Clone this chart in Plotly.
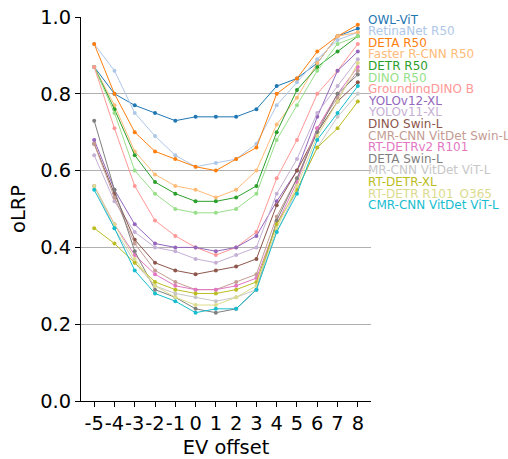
import plotly.graph_objects as go

# ---- data ----
ev_offset = [-5, -4, -3, -2, -1, 0, 1, 2, 3, 4, 5, 6, 7, 8]
x_tick_labels = ["-5", "-4", "-3", "-2", "-1", "0", "1", "2", "3", "4", "5", "6", "7", "8"]
y_tick_vals = [0.0, 0.2, 0.4, 0.6, 0.8, 1.0]

owl_vit = [0.87, 0.80, 0.77, 0.75, 0.73, 0.74, 0.74, 0.74, 0.76, 0.82, 0.84, 0.88, 0.95, 0.97]
retinanet_r50 = [0.93, 0.86, 0.75, 0.69, 0.64, 0.61, 0.62, 0.63, 0.67, 0.77, 0.83, 0.89, 0.94, 0.96]
deta_r50 = [0.93, 0.80, 0.70, 0.65, 0.63, 0.61, 0.60, 0.63, 0.66, 0.80, 0.84, 0.91, 0.95, 0.98]
faster_rcnn_r50 = [0.87, 0.77, 0.65, 0.59, 0.56, 0.55, 0.53, 0.55, 0.60, 0.72, 0.79, 0.88, 0.95, 0.96]
detr_r50 = [0.87, 0.76, 0.64, 0.57, 0.54, 0.52, 0.52, 0.53, 0.56, 0.70, 0.81, 0.87, 0.91, 0.95]
dino_r50 = [0.87, 0.75, 0.60, 0.54, 0.50, 0.49, 0.49, 0.50, 0.54, 0.68, 0.77, 0.86, 0.93, 0.95]
grounding_dino_b = [0.87, 0.71, 0.56, 0.47, 0.43, 0.40, 0.38, 0.40, 0.44, 0.58, 0.68, 0.80, 0.86, 0.93]
yolov12_xl = [0.68, 0.55, 0.46, 0.41, 0.40, 0.40, 0.39, 0.40, 0.43, 0.52, 0.60, 0.74, 0.86, 0.91]
yolov11_xl = [0.64, 0.52, 0.44, 0.40, 0.39, 0.37, 0.36, 0.38, 0.40, 0.54, 0.63, 0.75, 0.82, 0.89]
dino_swin_l = [0.67, 0.54, 0.42, 0.36, 0.34, 0.33, 0.34, 0.35, 0.37, 0.51, 0.60, 0.70, 0.78, 0.83]
cmr_vitdet_swin_l = [0.67, 0.53, 0.41, 0.34, 0.31, 0.29, 0.29, 0.31, 0.33, 0.48, 0.58, 0.71, 0.79, 0.86]
rt_detrv2_r101 = [0.56, 0.46, 0.38, 0.33, 0.30, 0.29, 0.29, 0.30, 0.32, 0.46, 0.57, 0.71, 0.80, 0.87]
deta_swin_l = [0.73, 0.55, 0.39, 0.29, 0.27, 0.24, 0.23, 0.24, 0.29, 0.47, 0.58, 0.70, 0.80, 0.85]
mr_vitdet_vit_l = [0.56, 0.45, 0.36, 0.30, 0.28, 0.27, 0.26, 0.27, 0.29, 0.44, 0.55, 0.66, 0.74, 0.80]
rt_detr_xl = [0.45, 0.41, 0.36, 0.31, 0.29, 0.28, 0.28, 0.29, 0.31, 0.46, 0.55, 0.66, 0.71, 0.78]
rt_detr_r101_o365 = [0.56, 0.46, 0.37, 0.30, 0.27, 0.25, 0.25, 0.27, 0.30, 0.45, 0.56, 0.69, 0.78, 0.88]
cmr_vitdet_vit_l = [0.55, 0.45, 0.34, 0.28, 0.26, 0.23, 0.24, 0.24, 0.29, 0.44, 0.54, 0.68, 0.75, 0.82]

series_names = [
    "OWL-ViT", "RetinaNet R50", "DETA R50", "Faster R-CNN R50", "DETR R50", "DINO R50",
    "GroundingDINO B", "YOLOv12-XL", "YOLOv11-XL", "DINO Swin-L", "CMR-CNN VitDet Swin-L",
    "RT-DETRv2 R101", "DETA Swin-L", "MR-CNN VitDet ViT-L", "RT-DETR-XL",
    "RT-DETR R101_O365", "CMR-CNN VitDet ViT-L",
]
series_values = [
    owl_vit, retinanet_r50, deta_r50, faster_rcnn_r50, detr_r50, dino_r50,
    grounding_dino_b, yolov12_xl, yolov11_xl, dino_swin_l, cmr_vitdet_swin_l,
    rt_detrv2_r101, deta_swin_l, mr_vitdet_vit_l, rt_detr_xl,
    rt_detr_r101_o365, cmr_vitdet_vit_l,
]
series_colors = [
    "#1f77b4", "#aec7e8", "#ff7f0e", "#ffbb78", "#2ca02c", "#98df8a",
    "#ff9896", "#9467bd", "#c5b0d5", "#8c564b", "#c49c94",
    "#e377c2", "#7f7f7f", "#c7c7c7", "#bcbd22", "#dbdb8d", "#17becf",
]

FONT = "DejaVu Sans"
W, H = 508, 459
ML, MR, MT, MB = 81, 137, 17, 58
plot_w = W - ML - MR
plot_h = H - MT - MB

fig = go.Figure()
for name, vals, col in zip(series_names, series_values, series_colors):
    fig.add_trace(go.Scatter(
        x=ev_offset, y=vals, name=name, mode="lines+markers",
        line=dict(color=col, width=1),
        marker=dict(color=col, size=4, line=dict(width=0)),
        showlegend=False,
    ))

# legend as coloured text labels
annotations = []
for i, (name, col) in enumerate(zip(series_names, series_colors)):
    y_px = 19 + 11.6 * i
    annotations.append(dict(
        text=name, xref="paper", yref="paper",
        x=(367 - ML) / plot_w, y=(H - MB - y_px) / plot_h,
        xanchor="left", yanchor="middle", showarrow=False,
        font=dict(family=FONT, size=12.0, color=col),
        borderpad=0, height=11, valign="middle",
    ))

fig.update_layout(
    width=W, height=H,
    margin=dict(l=ML, r=MR, t=MT, b=MB, pad=0, autoexpand=False),
    paper_bgcolor="white", plot_bgcolor="white",
    font=dict(family=FONT, size=19.4, color="black"),
    annotations=annotations,
    showlegend=False,
)
fig.update_xaxes(
    range=[-5.65, 8.65], tickmode="array", tickvals=ev_offset, ticktext=x_tick_labels,
    tickangle=0, showgrid=False, zeroline=False, automargin=False,
    showline=True, linecolor="black", linewidth=1.1,
    ticks="outside", ticklen=5, tickwidth=1.1, tickcolor="black",
    title=dict(text="EV offset", standoff=13, font=dict(size=19.4)),
)
fig.update_yaxes(
    range=[0, 1], tickmode="array", tickvals=y_tick_vals,
    ticktext=[f"{v:.1f}" for v in y_tick_vals],
    showgrid=True, gridcolor="#b0b0b0", gridwidth=1, zeroline=False, automargin=False,
    showline=True, linecolor="black", linewidth=1.1,
    ticks="outside", ticklen=5, tickwidth=1.1, tickcolor="black",
    title=dict(text="oLRP", standoff=9, font=dict(size=19.4)),
)

fig.write_html("out.html")
